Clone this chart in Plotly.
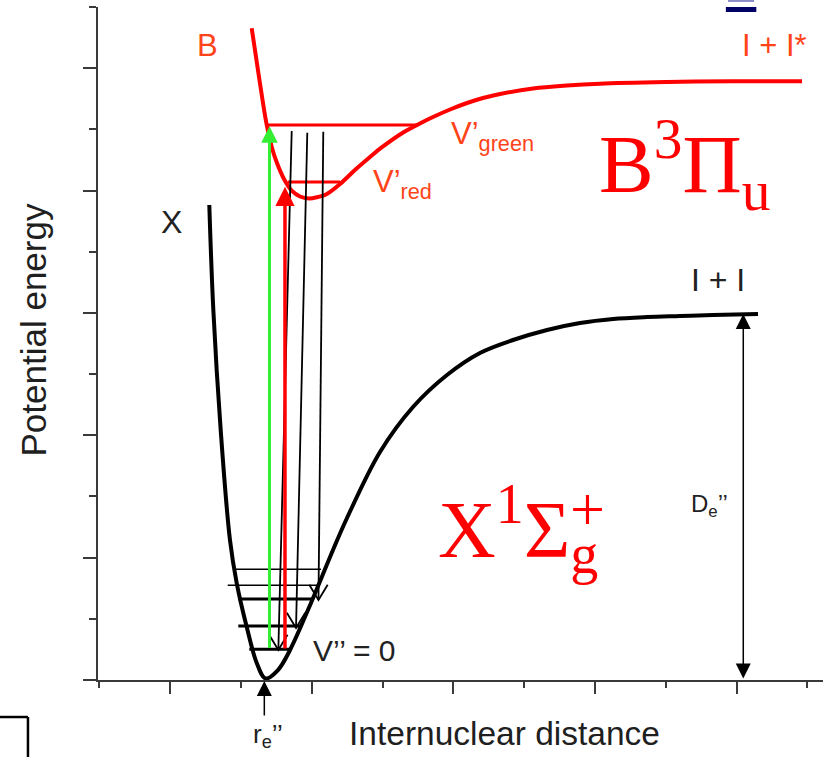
import plotly.graph_objects as go

# ---------------- data ----------------
# Ground state X (internuclear distance, potential energy)
x_state_r = [1.552, 1.609, 1.713, 1.844, 1.939, 2.080, 2.222, 2.346, 2.522, 2.692, 2.988, 3.299,
             3.497, 3.963, 4.429, 4.909, 5.375, 5.842, 6.322, 6.788, 7.254, 7.734, 8.200, 8.666, 9.302]
x_state_v = [7.764, 6.048, 4.086, 2.288, 1.585, 0.871, 0.278, 0.025, 0.163, 0.490, 1.259, 2.125,
             2.648, 3.727, 4.462, 4.985, 5.345, 5.557, 5.721, 5.835, 5.901, 5.933, 5.950, 5.966, 5.982]

# Excited state B
b_state_r = [2.151, 2.254, 2.363, 2.438, 2.508, 2.607, 2.720, 2.833, 2.960, 3.087, 3.200, 3.398,
             3.624, 3.822, 3.977, 4.302, 4.500, 4.712, 4.952, 5.192, 5.418, 5.658, 6.124, 6.604,
             7.070, 8.017, 8.949, 9.924]
b_state_v = [10.652, 9.856, 9.072, 8.696, 8.450, 8.189, 7.993, 7.903, 7.870, 7.895, 7.936, 8.107,
             8.352, 8.549, 8.696, 8.957, 9.080, 9.202, 9.325, 9.431, 9.513, 9.578, 9.668, 9.717,
             9.747, 9.774, 9.788, 9.788]

# Vibrational levels of X  (energy, left end, right end)
x_level_e = [0.502, 0.883, 1.324, 1.548, 1.809]
x_level_left = [2.117, 1.962, 1.962, 1.812, 1.891]
x_level_right = [2.716, 2.833, 2.998, 3.092, 3.130]
x_level_bold = [True, True, True, False, False]

# Vibrational levels of B: v'green, v'red
b_level_e = [9.072, 8.140]
b_level_left = [2.363, 2.664]
b_level_right = [4.500, 3.398]

# Absorption (green, red): r, start energy, end energy
abs_r = [2.402, 2.621]
abs_from = [0.50, 0.49]
abs_to = [9.05, 8.06]

# Emission (black): top point and bottom tip
em_top_r = [2.716, 2.936, 3.162]
em_top_e = [8.973, 8.946, 8.962]
em_bot_r = [2.527, 2.777, 3.094]
em_bot_e = [0.490, 0.850, 1.308]

# Dissociation energy arrow
de_r = 9.094
de_top = 5.982

# ---------------- figure ----------------
RED = "#ff0000"
LBL = "#ff4419"
GREEN = "#33ee33"
FONT = "Liberation Sans, Arial, sans-serif"
SERIF = "Liberation Serif, Times New Roman, serif"
AX = "#3a3a3a"

fig = go.Figure()

fig.add_trace(go.Scatter(x=x_state_r, y=x_state_v, mode="lines",
                         line=dict(color="black", width=4, shape="spline", smoothing=1.0),
                         hoverinfo="skip"))
fig.add_trace(go.Scatter(x=b_state_r, y=b_state_v, mode="lines",
                         line=dict(color=RED, width=4, shape="spline", smoothing=1.0),
                         hoverinfo="skip"))

# B levels
bx, by = [], []
for e, l, r in zip(b_level_e, b_level_left, b_level_right):
    bx += [l, r, None]
    by += [e, e, None]
fig.add_trace(go.Scatter(x=bx, y=by, mode="lines", line=dict(color=RED, width=3), hoverinfo="skip"))

# X levels
for bold in (True, False):
    lx, ly = [], []
    for e, l, r, b in zip(x_level_e, x_level_left, x_level_right, x_level_bold):
        if b == bold:
            lx += [l, r, None]
            ly += [e, e, None]
    fig.add_trace(go.Scatter(x=lx, y=ly, mode="lines",
                             line=dict(color="black", width=3 if bold else 1.5), hoverinfo="skip"))

# Emission lines with open V heads
ARM_DX, ARM_DY = 0.13, 0.25
ex, ey = [], []
for tr, te, br, be in zip(em_top_r, em_top_e, em_bot_r, em_bot_e):
    ex += [tr, br, None, br - ARM_DX, br, br + ARM_DX, None]
    ey += [te, be, None, be + ARM_DY, be, be + ARM_DY, None]
fig.add_trace(go.Scatter(x=ex, y=ey, mode="lines", line=dict(color="black", width=1.8),
                         hoverinfo="skip"))

annotations = []
# absorption arrows
for r, a, b, c, w in zip(abs_r, abs_from, abs_to, [GREEN, RED], [3, 3.5]):
    annotations.append(dict(x=r, y=b, ax=r, ay=a, xref="x", yref="y", axref="x", ayref="y",
                            text="", showarrow=True, arrowhead=2, arrowsize=1.1, arrowwidth=w,
                            arrowcolor=c, standoff=0, startstandoff=0))
# De double arrow
annotations.append(dict(x=de_r, y=de_top, ax=de_r, ay=0, xref="x", yref="y", axref="x", ayref="y",
                        text="", showarrow=True, arrowhead=2, startarrowhead=2, arrowside="end+start",
                        arrowsize=2, startarrowsize=2, arrowwidth=1.5, arrowcolor="black",
                        standoff=0, startstandoff=0))
# r_e arrow (below the axis, so placed in paper units with a pixel tail)
annotations.append(dict(x=0.2294, y=-0.0015, ax=0, ay=36, xref="paper", yref="paper",
                        axref="pixel", ayref="pixel",
                        text="", showarrow=True, arrowhead=2, arrowsize=2, arrowwidth=1.5,
                        arrowcolor="black", standoff=0))


def label(text, x, y, size, color, family=FONT, xanchor="center", yanchor="middle", ref="x", **kw):
    d = dict(text=text, x=x, y=y, xref=ref, yref=ref.replace("x", "y"), showarrow=False,
             font=dict(size=size, color=color, family=family),
             xanchor=xanchor, yanchor=yanchor)
    d.update(kw)
    annotations.append(d)


label("B", 1.527, 10.363, 31, LBL)
label("I + I*", 9.528, 10.363, 31, LBL)
label("V’<sub>green</sub>", 4.94, 8.89, 31, LBL, xanchor="left")
label("V’<sub>red</sub>", 3.84, 8.10, 31, LBL, xanchor="left")
label("X", 1.025, 7.478, 32, "#222222")
label("I + I", 8.730, 6.538, 32, "#222222")
label("V’’ = 0", 2.99, 0.49, 30, "#222222", xanchor="left")
label("D<sub>e</sub>’’", 8.33, 2.85, 24, "#222222", xanchor="left")
label("r<sub>e</sub>’’", 0.2110, -0.0830, 26, "#222222", xanchor="left", ref="paper")
label("B<sup>3</sup>Π<sub>u</sub>", 7.03, 8.43, 82, RED, family=SERIF, xanchor="left")
label("X<sup>1</sup>Σ<sub>g</sub>", 4.755, 2.47, 80, RED, family=SERIF, xanchor="left")
label("+", 6.894, 2.80, 62, RED, family=SERIF)
label("Internuclear distance", 0.560, -0.0788, 33.5, "#1f1f1f", ref="paper")
label("Potential energy", -0.089, 0.520, 35, "#1f1f1f", ref="paper", textangle=-90)

shapes = [
    dict(type="rect", xref="paper", yref="paper", x0=0.866, x1=0.908, y0=0.9926, y1=1.0,
         fillcolor="#000066", line=dict(width=0)),
    dict(type="line", xref="paper", yref="paper", x0=0.869, x1=0.905, y0=1.009, y1=1.009,
         line=dict(color="#8a8ac8", width=2)),
    dict(type="line", xref="paper", yref="paper", x0=-0.14, x1=-0.0966, y0=-0.055, y1=-0.055,
         line=dict(color="black", width=2.5)),
    dict(type="line", xref="paper", yref="paper", x0=-0.0966, x1=-0.0966, y0=-0.055, y1=-0.12,
         line=dict(color="black", width=2.5)),
]

fig.update_layout(
    width=823, height=757,
    margin=dict(l=98, r=0, t=7, b=77, pad=0),
    paper_bgcolor="white", plot_bgcolor="white",
    showlegend=False,
    annotations=annotations,
    shapes=shapes,
    xaxis=dict(range=[-0.02, 10.22], showline=True, linecolor=AX, linewidth=2,
               ticks="outside", tick0=1, dtick=2, ticklen=12, tickwidth=2, tickcolor=AX,
               showticklabels=False, showgrid=False, zeroline=False, fixedrange=True,
               minor=dict(tick0=0, dtick=1, ticklen=6, tickwidth=2, tickcolor=AX,
                          ticks="outside", showgrid=False)),
    yaxis=dict(range=[0, 11], showline=True, linecolor=AX, linewidth=2,
               ticks="outside", tick0=0, dtick=2, ticklen=13, tickwidth=2, tickcolor=AX,
               showticklabels=False, showgrid=False, zeroline=False, fixedrange=True,
               minor=dict(tick0=1, dtick=1, ticklen=7, tickwidth=2, tickcolor=AX,
                          ticks="outside", showgrid=False)),
)

fig.write_html("out.html")
